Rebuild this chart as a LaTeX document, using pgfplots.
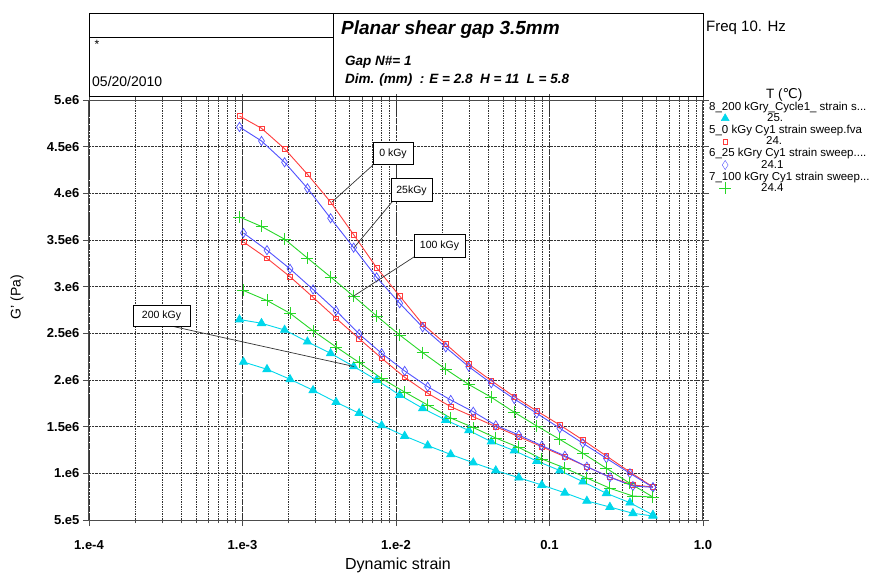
\documentclass[border=0pt]{standalone}
\usepackage{pgfplots}
\usepackage{pgfplotstable}
\pgfplotsset{compat=1.18}
\usepackage{fontspec}
\setmainfont{Liberation Sans}
\newfontfamily\dejavu{DejaVu Sans}
\definecolor{cred}{RGB}{255,60,60}
\definecolor{cblue}{RGB}{80,80,255}
\definecolor{cgreen}{RGB}{40,215,40}
\definecolor{ccyan}{RGB}{0,215,235}

% upper set (first cycle of each sample), G' in MPa
\pgfplotstableread{
x        rt     bt     gt     cu
0.000956 4.829  4.711  3.747  2.648
0.00133  4.697  4.561  3.645  2.608
0.00188  4.478  4.333  3.509  2.536
0.00265  4.204  4.054  3.307  2.410
0.00375  3.907  3.733  3.104  2.286
0.0053   3.557  3.418  2.897  2.145
0.00748  3.203  3.100  2.686  2.000
0.01057  2.900  2.822  2.482  1.839
0.01493  2.597  2.565  2.293  1.697
0.02109  2.386  2.350  2.115  1.571
0.02978  2.169  2.143  1.952  1.459
0.04176  1.993  1.965  1.815  1.339
0.0590   1.821  1.796  1.654  1.243
0.0827   1.668  1.643  1.507  1.132
0.1168   1.518  1.483  1.363  1.030
0.165    1.357  1.322  1.215  0.910
0.2348   1.186  1.161  1.054  0.786
0.3342   1.014  1.000  0.893  0.685
0.472    0.854  0.850  0.746  0.554
}\upperset

% lower set (second cycle), G' in MPa
\pgfplotstableread{
x        bl     rl     gl     cl
0.001015 3.575  3.479  2.959  2.193
0.001444 3.391  3.304  2.852  2.115
0.00204  3.191  3.107  2.715  2.008
0.002883 2.970  2.886  2.527  1.890
0.004072 2.743  2.661  2.354  1.762
0.005752 2.493  2.443  2.188  1.644
0.008064 2.286  2.233  2.016  1.513
0.01139  2.097  2.029  1.871  1.400
0.01609  1.928  1.858  1.732  1.298
0.02273  1.786  1.714  1.593  1.202
0.03187  1.660  1.607  1.491  1.114
0.04467  1.515  1.500  1.379  1.030
0.0631   1.411  1.393  1.277  0.953
0.0891   1.296  1.285  1.154  0.875
0.1259   1.188  1.178  1.057  0.791
0.1752   1.071  1.071  0.950  0.704
0.2475   0.958  0.958  0.840  0.639
0.3496   0.864  0.875  0.757  0.572
0.472    0.850  0.854  0.746  0.543
}\lowerset

\pgfplotsset{
  legmark/.style={legend image code/.code={\draw[overlay,##1] plot coordinates {(17pt,0pt)};}},
  sred/.style={cred, line width=0.9pt, mark=square, mark size=2.4pt, mark options={solid, line width=0.7pt}},
  sblue/.style={cblue, line width=0.9pt, mark=diamond, mark size=4.6pt, mark options={solid, line width=0.7pt, xscale=0.85}},
  sgreen/.style={cgreen, line width=0.9pt, mark=+, mark size=6pt, mark options={solid, line width=0.9pt}},
  scyan/.style={ccyan, line width=0.9pt, mark=triangle*, mark size=4.6pt, mark options={solid}},
}

\begin{document}
\begin{tikzpicture}
\useasboundingbox (0pt,0pt) rectangle (871pt,-575pt);
\begin{axis}[
  at={(89pt,-520pt)}, anchor=south west,
  scale only axis, width=614pt, height=420pt,
  xmode=log, xmin=1e-4, xmax=1, ymin=0.5, ymax=5,
  xtick={1e-4,1e-3,1e-2,1e-1,1},
  xticklabels={1.e-4,1.e-3,1.e-2,0.1,1.0},
  ytick={0.5,1,1.5,2,2.5,3,3.5,4,4.5,5},
  yticklabels={5.e5,1.e6,1.5e6,2.e6,2.5e6,3.e6,3.5e6,4.e6,4.5e6,5.e6},
  xmajorgrids, xminorgrids, ymajorgrids,
  grid style={densely dotted, black!80, line width=0.7pt},
  minor grid style={densely dotted, black!80, line width=0.7pt},
  tick align=outside,
  major tick length=6pt, minor tick length=3pt,
  axis line style={gray!60!black, line width=1pt},
  every tick/.style={gray!60!black, line width=0.8pt},
  ticklabel style={font=\fontsize{13}{13}\selectfont\bfseries},
  xticklabel style={yshift=-11pt},
  /pgf/number format/assume math mode=true,
  legend style={at={(1.00814,1.031)}, anchor=north west, draw=none, fill=none,
    inner sep=0pt, font=\fontsize{11.5}{11.5}\selectfont, row sep=0pt,
    nodes={inner sep=1pt}},
  legend cell align=left,
]
\addplot[sred, forget plot] table[x=x, y=rt] {\upperset};
\addplot[sblue, forget plot] table[x=x, y=bt] {\upperset};
\addplot[sgreen, forget plot] table[x=x, y=gt] {\upperset};
\addplot[scyan, forget plot] table[x=x, y=cu] {\upperset};
\addplot[sred, forget plot] table[x=x, y=rl] {\lowerset};
\addplot[sblue, forget plot] table[x=x, y=bl] {\lowerset};
\addplot[sgreen, forget plot] table[x=x, y=gl] {\lowerset};
\addplot[scyan, forget plot] table[x=x, y=cl] {\lowerset};

\addlegendimage{empty legend}\addlegendentry{\hspace{57pt}\fontsize{13.5}{13.5}\selectfont T ({\dejavu ℃})}
\addlegendimage{empty legend}\addlegendentry{8\_200 kGry\_Cycle1\_ strain s...}
\addlegendimage{legmark, only marks, ccyan, mark=triangle*, mark size=4.6pt}\addlegendentry{\hspace{58pt}25.}
\addlegendimage{empty legend}\addlegendentry{5\_0 kGy Cy1 strain sweep.fva}
\addlegendimage{legmark, only marks, cred, mark=square, mark size=2.4pt}\addlegendentry{\hspace{57pt}24.}
\addlegendimage{empty legend}\addlegendentry{6\_25 kGry Cy1 strain sweep....}
\addlegendimage{legmark, only marks, cblue, mark=diamond, mark size=4.6pt, mark options={xscale=0.85}}\addlegendentry{\hspace{52pt}24.1}
\addlegendimage{empty legend}\addlegendentry{7\_100 kGry Cy1 strain sweep...}
\addlegendimage{legmark, only marks, cgreen, mark=+, mark size=6pt}\addlegendentry{\hspace{52pt}24.4}
\end{axis}

\begin{scope}[x=1pt,y=-1pt]
% header
\draw[line width=0.8pt] (89,13) rectangle (703,96);
\draw[line width=0.8pt] (333,13) -- (333,96);
\draw[line width=0.6pt] (89,37) -- (333,37);
\node[anchor=center, inner sep=0pt, font=\fontsize{12}{12}\selectfont] at (97,44) {*};
\node[anchor=west, inner sep=0pt, font=\fontsize{14}{14}\selectfont] at (92,81) {05/20/2010};
\node[anchor=west, inner sep=0pt, font=\fontsize{19}{19}\selectfont\bfseries\itshape] at (341,30) {Planar shear gap 3.5mm};
\node[anchor=west, inner sep=0pt, font=\fontsize{13.5}{13.5}\selectfont\bfseries\itshape] at (345,62) {Gap N\#= 1};
\node[anchor=west, inner sep=0pt, font=\fontsize{13.5}{13.5}\selectfont\bfseries\itshape] at (345,80) {Dim. (mm)\ \ : E = 2.8\ \ H = 11\ \ L = 5.8};
\node[anchor=west, inner sep=0pt, font=\fontsize{15}{15}\selectfont] at (706,28) {Freq 10. Hz};
% axis labels
\node[anchor=center, inner sep=0pt, font=\fontsize{16}{16}\selectfont] at (398,565) {Dynamic strain};
\node[anchor=center, inner sep=0pt, rotate=90, font=\fontsize{14}{14}\selectfont] at (17,297) {G' (Pa)};
% annotations
\draw[gray!40!black, line width=0.7pt] (373,165) -- (332,202);
\draw[gray!40!black, line width=0.7pt] (392,202) -- (354,247.7);
\draw[gray!40!black, line width=0.7pt] (414,257) -- (353.3,296.3);
\draw[gray!40!black, line width=0.7pt] (171,326) -- (354,366.5);
\tikzset{ann/.style={draw=black, line width=1pt, fill=white, inner sep=0pt, font=\fontsize{10.5}{10.5}\selectfont}}
\node[ann, minimum width=40pt, minimum height=22pt] at (393,154) {0 kGy};
\node[ann, minimum width=41pt, minimum height=23pt] at (411.5,190.5) {25kGy};
\node[ann, minimum width=51pt, minimum height=22pt] at (439.5,246) {100 kGy};
\node[ann, minimum width=57pt, minimum height=21pt] at (161.5,315.5) {200 kGy};
\end{scope}
\end{tikzpicture}
\end{document}
